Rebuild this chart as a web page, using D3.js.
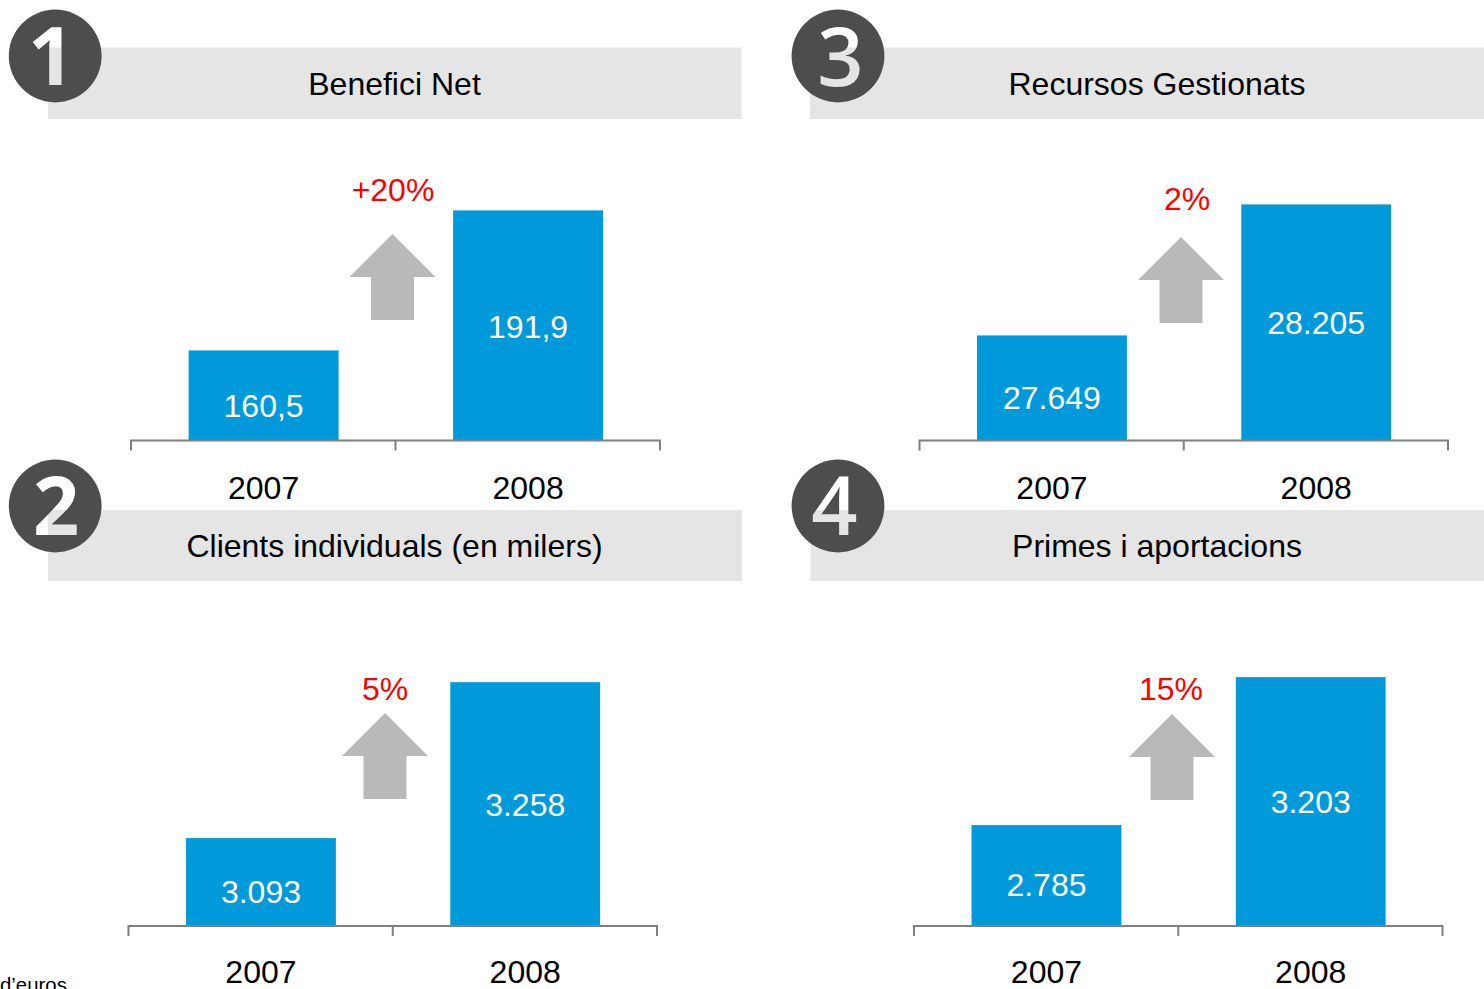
<!DOCTYPE html>
<html><head><meta charset="utf-8">
<script src="https://cdn.jsdelivr.net/npm/d3@7"></script>
<style>
html,body{margin:0;padding:0;background:#fff;overflow:hidden}
svg{display:block;font-family:"Liberation Sans",Arial,sans-serif}
</style></head><body>
<script>
// ---- data ----
const years = ["2007", "2008"];
const titles = ["Benefici Net", "Clients individuals (en milers)", "Recursos Gestionats", "Primes i aportacions"];
const badges = ["1", "2", "3", "4"];
const beneficiNet = [160.5, 191.9];
const clients = [3093, 3258];
const recursos = [27649, 28205];
const primes = [2785, 3203];
const benefLabels = ["160,5", "191,9"];
const clientLabels = ["3.093", "3.258"];
const recursosLabels = ["27.649", "28.205"];
const primesLabels = ["2.785", "3.203"];
const growth = ["+20%", "5%", "2%", "15%"];
const footnote = "d’euros";

// ---- layout ----
const W = 1484, H = 989;
const panels = [
 {values:beneficiNet, labels:benefLabels, base:140.3, perPx:1/4.459, band:[48,47.5,741.5,119], circle:[55.2,56], digit:[-4,29,700], axis:[131,660], y0:440.5, yearY:499, titleX:394.5, titleY:95, arrow:[392.5,234], growth:[393,201], shift:[0,0]},
 {values:clients, labels:clientLabels, base:3000, perPx:1/0.945, band:[48,510,742,581], circle:[55.2,506], digit:[1,29,700], axis:[128.5,657], y0:926, yearY:983, titleX:394.5, titleY:557, arrow:[385,713], growth:[385,700], shift:[-1,-1]},
 {values:recursos, labels:recursosLabels, base:27203, perPx:1/0.2356, band:[810,47.5,1484,119], circle:[838,56], digit:[2.5,30,600], axis:[919.5,1448], y0:440.5, yearY:499, titleX:1157, titleY:95, arrow:[1181,237], growth:[1187,210], shift:[0,-1]},
 {values:primes, labels:primesLabels, base:2500, perPx:1/0.354, band:[810.5,510,1484,581], circle:[838,506], digit:[-3.5,29,600], axis:[914,1442.5], y0:926, yearY:983, titleX:1157, titleY:557, arrow:[1172,714], growth:[1171,700], shift:[-1,-1]}
];
const labelDy = [10.5, 1.5];

const svg = d3.select("body").append("svg").attr("width",W).attr("height",H);

// pattern: digits are see-through, so they show the band where they cross it
const pat = svg.append("defs").append("pattern").attr("id","hole")
  .attr("patternUnits","userSpaceOnUse").attr("x",0).attr("y",0).attr("width",W).attr("height",H);
pat.append("rect").attr("width",W).attr("height",H).attr("fill","#fff");
panels.forEach(p=>pat.append("rect").attr("x",p.band[0]).attr("y",p.band[1])
  .attr("width",p.band[2]-p.band[0]).attr("height",p.band[3]-p.band[1]).attr("fill","#e5e5e5"));

panels.forEach((p,i)=>{
  const g = svg.append("g");
  g.append("rect").attr("x",p.band[0]).attr("y",p.band[1])
    .attr("width",p.band[2]-p.band[0]).attr("height",p.band[3]-p.band[1]).attr("fill","#e5e5e5");
  g.append("circle").attr("cx",p.circle[0]).attr("cy",p.circle[1]).attr("r",46.4).attr("fill","#4d4d4d");
  g.append("text").attr("x",p.circle[0]+p.digit[0]).attr("y",p.circle[1]+p.digit[1])
    .attr("text-anchor","middle").attr("font-family","'Open Sans',sans-serif").attr("font-weight",p.digit[2])
    .attr("font-size",81).attr("fill","url(#hole)").text(badges[i]);
  g.append("text").attr("x",p.titleX).attr("y",p.titleY).attr("text-anchor","middle")
    .attr("font-size",32).attr("fill","#000").text(titles[i]);

  const x = d3.scaleBand().domain(years).range(p.axis).paddingInner(0.433).paddingOuter(0.2165).align(0.503);
  const top = 200;
  const y = d3.scaleLinear().domain([p.base, p.base + (p.y0-top)*p.perPx]).range([p.y0, top]);

  g.selectAll(".bar").data(p.values).join("rect").attr("class","bar")
    .attr("x",(d,j)=>x(years[j])).attr("width",x.bandwidth())
    .attr("y",d=>y(d)).attr("height",d=>p.y0-y(d)).attr("fill","#0099d9");

  g.selectAll(".val").data(p.values).join("text").attr("class","val")
    .attr("x",(d,j)=>x(years[j])+x.bandwidth()/2)
    .attr("y",(d,j)=>(y(d)+p.y0)/2+labelDy[j]+11+p.shift[j])
    .attr("text-anchor","middle").attr("font-size",32).attr("fill","#fff")
    .text((d,j)=>p.labels[j]);

  // axis baseline with category-boundary ticks
  const [a,b] = p.axis, m = (a+b)/2;
  g.append("path").attr("fill","none").attr("stroke","#808080").attr("stroke-width",2)
    .attr("d",`M${a},${p.y0+10}V${p.y0}H${b}V${p.y0+10}M${m},${p.y0}V${p.y0+10}`);

  g.selectAll(".yr").data(years).join("text").attr("class","yr")
    .attr("x",d=>x(d)+x.bandwidth()/2).attr("y",p.yearY)
    .attr("text-anchor","middle").attr("font-size",32).attr("fill","#000").text(d=>d);

  // growth arrow
  const [ax,ay] = p.arrow;
  g.append("path").attr("fill","#b9b9b9")
    .attr("d",`M${ax},${ay}L${ax+43},${ay+43}H${ax+21.5}V${ay+86}H${ax-21.5}V${ay+43}H${ax-43}Z`);
  g.append("text").attr("x",p.growth[0]).attr("y",p.growth[1]).attr("text-anchor","middle")
    .attr("font-size",32).attr("fill","#ff0000").text(growth[i]);
});

svg.append("text").attr("x",0).attr("y",992).attr("font-size",20.4).attr("fill","#000").text(footnote);
</script>
</body></html>
